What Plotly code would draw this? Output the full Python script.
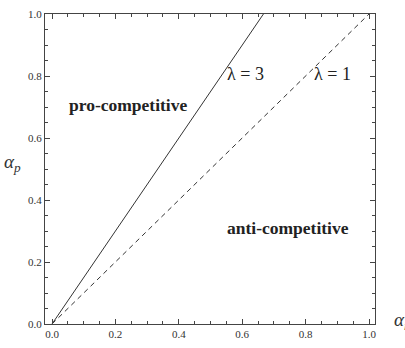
import plotly.graph_objects as go

# data
lam3_x = [0.0, 0.667]
lam3_y = [0.0, 1.0]
lam1_x = [0.0, 1.0]
lam1_y = [0.0, 1.0]
tick_vals = [0.0, 0.2, 0.4, 0.6, 0.8, 1.0]
tick_text = ["0.0", "0.2", "0.4", "0.6", "0.8", "1.0"]

serif = "Liberation Serif"
fig = go.Figure()
fig.add_trace(go.Scatter(x=lam3_x, y=lam3_y, mode="lines",
                         line=dict(color="#333333", width=1), showlegend=False))
fig.add_trace(go.Scatter(x=lam1_x, y=lam1_y, mode="lines",
                         line=dict(color="#333333", width=1, dash="5px,4px"), showlegend=False))

axis_common = dict(
    showline=True, linecolor="#444444", linewidth=1, mirror="ticks",
    ticks="inside", ticklen=5, tickwidth=1, tickcolor="#444444",
    tickvals=tick_vals, ticktext=tick_text,
    tickfont=dict(family=serif, size=11, color="#333333"),
    showgrid=False, zeroline=False,
    minor=dict(dtick=0.05, ticks="inside", ticklen=3, tickcolor="#444444", showgrid=False),
)
fig.update_xaxes(range=[-0.0221, 1.0189], **axis_common)
fig.update_yaxes(range=[0, 1], **axis_common)

ann = [
    dict(x=0.24, y=0.707, xref="x", yref="y", text="<b>pro-competitive</b>",
         font=dict(family=serif, size=17.5, color="#222222")),
    dict(x=0.745, y=0.31, xref="x", yref="y", text="<b>anti-competitive</b>",
         font=dict(family=serif, size=17.5, color="#222222")),
    dict(x=0.61, y=0.805, xref="x", yref="y", text="λ = 3",
         font=dict(family=serif, size=18, color="#222222")),
    dict(x=0.886, y=0.805, xref="x", yref="y", text="λ = 1",
         font=dict(family=serif, size=18, color="#222222")),
    dict(x=-0.13, y=0.52, xref="paper", yref="paper", xanchor="left",
         text="<i>α</i><sub><i>p</i></sub>",
         font=dict(family=serif, size=19, color="#333333")),
    dict(x=1.05, y=-0.035, xref="paper", yref="paper", xanchor="left",
         text="<i>α</i><sub><i>r</i></sub>",
         font=dict(family=serif, size=19, color="#333333")),
]
for a in ann:
    a.setdefault("showarrow", False)
    fig.add_annotation(**a)

fig.update_layout(
    width=405, height=348,
    margin=dict(l=45, r=30, t=8, b=23),
    plot_bgcolor="white", paper_bgcolor="white",
    font=dict(family=serif),
)
fig.write_html("out.html")
